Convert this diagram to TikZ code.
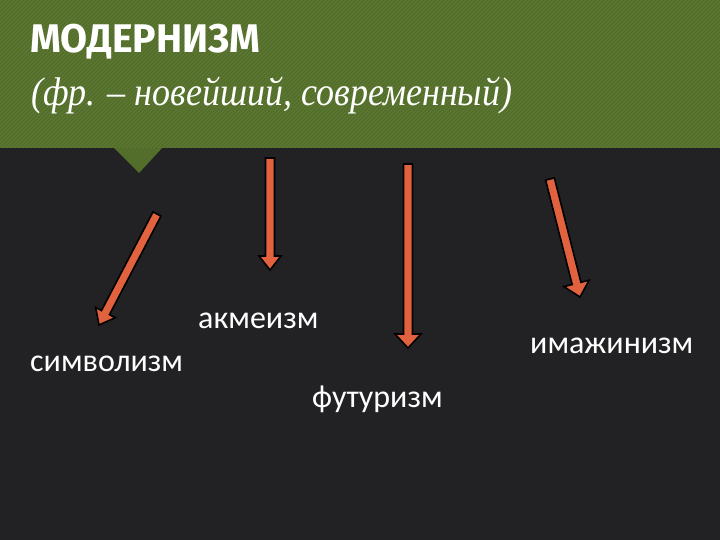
\documentclass[tikz,border=0pt]{standalone}
\usepackage{fontspec}
\setmainfont{Carlito}
\newfontfamily\titlefont[FakeStretch=0.98]{Fira Sans Bold}
\newfontfamily\subfont[FakeStretch=0.9]{Liberation Serif Italic}
\usetikzlibrary{calc}
\definecolor{bgdark}{HTML}{222224}
\definecolor{bandgreen}{HTML}{536E2A}
\definecolor{stripegreen}{HTML}{5E7A33}
\definecolor{arroworange}{HTML}{E2623F}
\tikzset{
  label text/.style={text=white, inner sep=0pt, anchor=base west, font=\fontsize{32}{36}\selectfont},
  blockarrow/.style={fill=arroworange, draw=black, line width=1.6pt, line join=miter},
}
\newcommand{\blockarr}[3]{% tail, tip, head half-width
  \coordinate (h) at ($(#2)!14pt!(#1)$);
  \draw[blockarrow] ($(#1)!4.5pt!90:(#2)$) -- ($(h)!4.5pt!-90:(#1)$) -- ($(h)!#3!-90:(#1)$) -- (#2)
     -- ($(h)!#3!90:(#1)$) -- ($(h)!4.5pt!90:(#1)$) -- ($(#1)!4.5pt!-90:(#2)$) -- cycle;
}
\begin{document}
\begin{tikzpicture}[x=1pt,y=-1pt]
\fill[bgdark] (0,0) rectangle (720,540);
\useasboundingbox (0,0) rectangle (720,540);
\fill[bandgreen] (0,0) rectangle (720,148);
\fill[bandgreen] (113,147) -- (163,147) -- (139,173) -- cycle;
\begin{scope}
\clip (0,0) rectangle (720,148);
\foreach \k in {0,4,...,872} {
  \draw[stripegreen, line width=1pt] (\k-150,148) -- (\k,-2);
}
\end{scope}
\node[text=white, inner sep=0pt, anchor=base west, font=\titlefont\fontsize{40}{42}\selectfont] (title) at (30,53) {МОДЕРНИЗМ};
\node[text=white, inner sep=0pt, anchor=base west, font=\subfont\fontsize{40}{44}\selectfont] (sub) at (31,106) {(фр. – новейший, современный)};
% arrows
\coordinate (a1t) at (157,214); \coordinate (a1h) at (99,325);
\coordinate (a2t) at (270,158); \coordinate (a2h) at (270,270);
\coordinate (a3t) at (408,164); \coordinate (a3h) at (408,348);
\coordinate (a4t) at (550,179); \coordinate (a4h) at (580,297);
\blockarr{a1t}{a1h}{11pt}
\blockarr{a2t}{a2h}{11pt}
\blockarr{a3t}{a3h}{13pt}
\blockarr{a4t}{a4h}{13pt}
\node[label text] (simv) at (30,371) {символизм};
\node[label text] (akm) at (198,328) {акмеизм};
\node[label text] (fut) at (312,407) {футуризм};
\node[label text] (imazh) at (530,353) {имажинизм};
\end{tikzpicture}
\end{document}
